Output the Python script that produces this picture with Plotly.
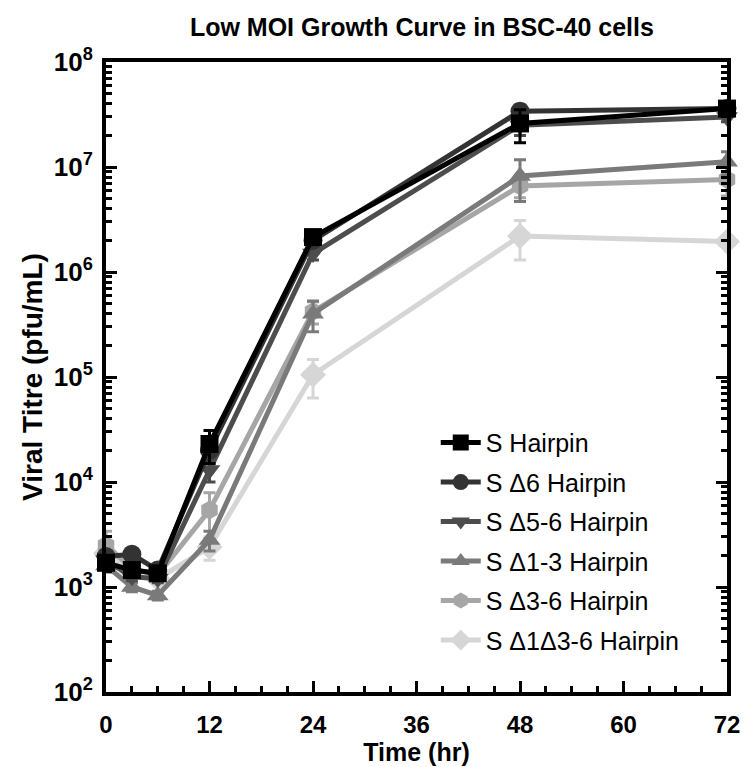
import plotly.graph_objects as go

times = [0, 3, 6, 12, 24, 48, 72]

series_names = ["S Hairpin", "S Δ6 Hairpin", "S Δ5-6 Hairpin", "S Δ1-3 Hairpin",
                "S Δ3-6 Hairpin", "S Δ1Δ3-6 Hairpin"]

s_hairpin = [1700, 1450, 1350, 23000, 2.15e6, 2.6e7, 3.6e7]
s_d6 = [1950, 2050, 1450, 20000, 2.0e6, 3.4e7, 3.6e7]
s_d5_6 = [1800, 1250, 1200, 13000, 1.5e6, 2.5e7, 3.0e7]
s_d1_3 = [1600, 1000, 830, 2800, 4.0e5, 8.2e6, 1.12e7]
s_d3_6 = [2500, 1500, 1300, 5400, 4.2e5, 6.6e6, 7.6e6]
s_d1d3_6 = [2100, 1400, 1200, 2400, 1.05e5, 2.2e6, 1.95e6]

err_hairpin = [300, 150, 100, 8000, 3e5, 9e6, 5e6]
err_d6 = [200, 150, 100, 5000, 2e5, 5e6, 3e6]
err_d5_6 = [200, 100, 100, 3000, 2e5, 5e6, 3e6]
err_d1_3 = [200, 100, 80, 600, 1.3e5, 3.5e6, 2.8e6]
err_d3_6 = [900, 200, 150, 2500, 1e5, 1.5e6, 2.3e6]
err_d1d3_6 = [300, 150, 100, 600, 4.2e4, 9e5, 2e5]

values = [s_hairpin, s_d6, s_d5_6, s_d1_3, s_d3_6, s_d1d3_6]
errors = [err_hairpin, err_d6, err_d5_6, err_d1_3, err_d3_6, err_d1d3_6]
colors = ["#000000", "#333333", "#4d4d4d", "#7a7a7a", "#a6a6a6", "#d6d6d6"]
symbols = ["square", "circle", "triangle-down", "triangle-up", "hexagon", "diamond"]
sizes = [18, 19, 19, 19, 19, 20]

y_tickvals = [1e2, 1e3, 1e4, 1e5, 1e6, 1e7, 1e8]
y_ticktext = ["<b>10<sup>%d</sup></b>" % e for e in range(2, 9)]
x_tickvals = [0, 12, 24, 36, 48, 60, 72]
x_ticktext = ["<b>%d</b>" % v for v in x_tickvals]

fig = go.Figure()
# draw last series first so that the first series sits on top
for i in reversed(range(len(series_names))):
    fig.add_trace(go.Scatter(
        x=times, y=values[i], name=series_names[i], mode="lines+markers",
        legendgroup="g%d" % i, legendrank=i + 1,
        line=dict(color=colors[i], width=5),
        marker=dict(symbol=symbols[i], size=sizes[i], color=colors[i],
                    line=dict(width=0)),
        error_y=dict(type="data", array=errors[i], color=colors[i],
                     thickness=3, width=6),
        cliponaxis=False,
    ))

FONT = "Liberation Sans, Arial, sans-serif"

fig.update_layout(
    width=752, height=767,
    margin=dict(l=106, r=17, t=62, b=75),
    plot_bgcolor="white", paper_bgcolor="white",
    title=dict(text="<b>Low MOI Growth Curve in BSC-40 cells</b>",
               x=0.561, xanchor="center", y=0.965, yanchor="middle",
               font=dict(family=FONT, size=25, color="black")),
    legend=dict(x=0.531, y=0.432, xanchor="left", yanchor="top",
                traceorder="grouped",
                font=dict(family=FONT, size=25, color="black"),
                bgcolor="rgba(0,0,0,0)", itemsizing="trace",
                tracegroupgap=4, itemwidth=40),
    showlegend=True,
)

fig.update_xaxes(
    range=[0, 72], tickvals=x_tickvals, ticktext=x_ticktext,
    showline=True, linecolor="black", linewidth=4, mirror=True,
    ticks="inside", ticklen=11, tickwidth=3, tickcolor="black",
    minor=dict(dtick=3, ticks="inside", ticklen=6, tickwidth=3, tickcolor="black"),
    showgrid=False, zeroline=False,
    tickfont=dict(family=FONT, size=24, color="black"),
    ticklabelstandoff=8,
    title=dict(text="<b>Time (hr)</b>", font=dict(family=FONT, size=25, color="black"),
               standoff=0),
)
fig.update_yaxes(
    type="log", range=[2, 8], tickvals=y_tickvals, ticktext=y_ticktext,
    showline=True, linecolor="black", linewidth=4, mirror="ticks",
    ticks="inside", ticklen=11, tickwidth=3, tickcolor="black",
    minor=dict(dtick="D1", ticks="inside", ticklen=6, tickwidth=3, tickcolor="black"),
    showgrid=False, zeroline=False,
    tickfont=dict(family=FONT, size=26, color="black"),
    ticklabelstandoff=4,
    title=dict(text="<b>Viral Titre (pfu/mL)</b>", font=dict(family=FONT, size=28, color="black"),
               standoff=4),
)

fig.write_html("out.html")
